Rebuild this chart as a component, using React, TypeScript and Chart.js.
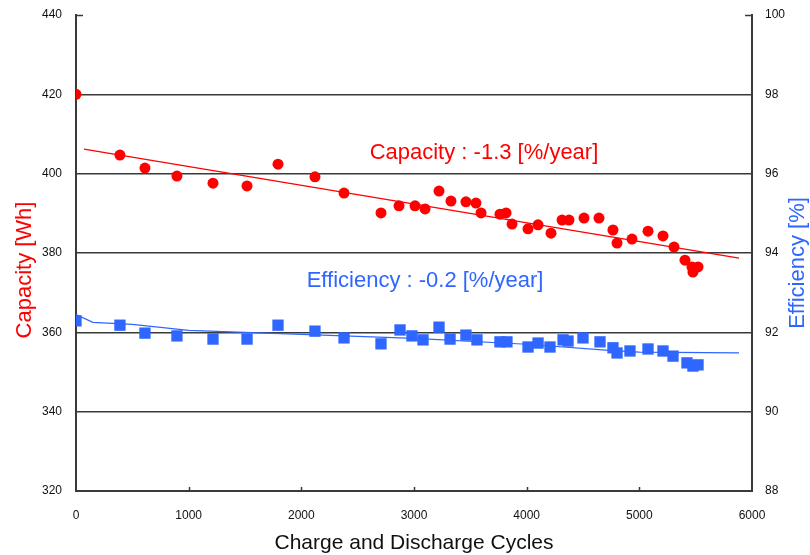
import React, { useEffect, useRef } from "react";
import { Chart, registerables } from "chart.js";

Chart.register(...registerables);

// ---- data ----
const capCycles = [0, 390, 612, 896, 1216, 1518, 1793, 2121, 2379, 2707, 2867, 3009, 3098, 3222, 3328, 3461, 3550, 3595, 3763, 3817, 3870, 4012, 4101, 4216, 4314, 4376, 4509, 4642, 4766, 4802, 4935, 5077, 5210, 5308, 5405, 5467, 5521, 5476];
const capacity = [420, 404.7, 401.4, 399.4, 397.6, 396.9, 402.4, 399.2, 395.1, 390.1, 391.9, 391.9, 391.1, 395.6, 393.1, 392.9, 392.6, 390.1, 389.8, 390.1, 387.3, 386.1, 387.1, 385.0, 388.3, 388.3, 388.8, 388.8, 385.8, 382.5, 383.5, 385.5, 384.3, 381.5, 378.2, 376.5, 376.5, 375.2];

const effCycles = [0, 390, 612, 896, 1216, 1518, 1793, 2121, 2379, 2707, 2876, 2982, 3080, 3222, 3320, 3461, 3559, 3763, 3825, 4012, 4101, 4207, 4323, 4367, 4500, 4651, 4766, 4802, 4917, 5077, 5210, 5299, 5423, 5476, 5521];
const efficiency = [92.29, 92.18, 91.98, 91.91, 91.83, 91.83, 92.18, 92.03, 91.86, 91.71, 92.06, 91.91, 91.81, 92.13, 91.83, 91.93, 91.81, 91.76, 91.76, 91.63, 91.73, 91.63, 91.81, 91.78, 91.86, 91.76, 91.61, 91.48, 91.53, 91.58, 91.53, 91.40, 91.23, 91.15, 91.18];

const capTrendX = [71, 5885];
const capTrendY = [406.2, 378.7];
const effTrendX = [0, 150, 500, 1000, 2000, 3000, 4000, 4700, 5000, 5885];
const effTrendY = [92.45, 92.25, 92.2, 92.05, 91.95, 91.85, 91.7, 91.55, 91.5, 91.48];

const xTickValues = [0, 1000, 2000, 3000, 4000, 5000, 6000];
const capTicks = [320, 340, 360, 380, 400, 420, 440];
const effTicks = [88, 90, 92, 94, 96, 98, 100];

const capLabel = "Capacity : -1.3 [%/year]";
const effLabel = "Efficiency : -0.2 [%/year]";
const capLabelPos = [3621, 405.2];
const effLabelPos = [3098, 93.29];

const RED = "#ff0000";
const BLUE = "#2f66ff";
const LINE = "#3a3a3a";
const TITLE_FONT = '22px "Liberation Sans", Arial, sans-serif';
const TICK_FONT = { family: '"Liberation Sans Narrow", "Liberation Sans", sans-serif', size: 12 };

const pts = (xs: number[], ys: number[]) => xs.map((x, i) => ({ x, y: ys[i] }));

const overlay = {
  id: "overlay",
  afterDraw(chart: any) {
    const { ctx, chartArea, scales } = chart;
    const { left, right, top, bottom } = chartArea;
    ctx.save();
    ctx.strokeStyle = LINE;
    ctx.lineWidth = 1.5;
    ctx.beginPath();
    for (const v of xTickValues.slice(1, -1)) {
      const px = Math.round(scales.x.getPixelForValue(v)) + 0.5;
      ctx.moveTo(px, bottom);
      ctx.lineTo(px, bottom - 4);
    }
    ctx.moveTo(left, top + 0.5);
    ctx.lineTo(left + 7, top + 0.5);
    ctx.moveTo(right - 7, top + 0.5);
    ctx.lineTo(right, top + 0.5);
    ctx.stroke();

    ctx.font = TITLE_FONT;
    ctx.textAlign = "center";
    ctx.textBaseline = "middle";

    ctx.fillStyle = RED;
    ctx.fillText(capLabel, scales.x.getPixelForValue(capLabelPos[0]), scales.y.getPixelForValue(capLabelPos[1]));
    ctx.fillStyle = BLUE;
    ctx.fillText(effLabel, scales.x.getPixelForValue(effLabelPos[0]), scales.y1.getPixelForValue(effLabelPos[1]));

    ctx.fillStyle = "#111";
    ctx.font = '21px "Liberation Sans", Arial, sans-serif';
    ctx.fillText("Charge and Discharge Cycles", 414, 543);

    ctx.font = TITLE_FONT;
    ctx.save();
    ctx.translate(25, 270);
    ctx.rotate(-Math.PI / 2);
    ctx.fillStyle = RED;
    ctx.fillText("Capacity [Wh]", 0, 0);
    ctx.restore();

    ctx.save();
    ctx.translate(798, 263);
    ctx.rotate(-Math.PI / 2);
    ctx.fillStyle = BLUE;
    ctx.fillText("Efficiency [%]", 0, 0);
    ctx.restore();

    ctx.restore();
  },
};

const fitV = (w: number) => (s: any) => {
  s.width = w;
  s.paddingTop = 0;
  s.paddingBottom = 0;
};

export default function App() {
  const ref = useRef<HTMLCanvasElement>(null);
  useEffect(() => {
    if (!ref.current) return;
    const chart = new Chart(ref.current, {
      type: "scatter",
      data: {
        datasets: [
          {
            type: "line",
            data: pts(capTrendX, capTrendY),
            borderColor: RED,
            borderWidth: 1.2,
            pointRadius: 0,
            yAxisID: "y",
          },
          {
            type: "line",
            data: pts(effTrendX, effTrendY),
            borderColor: BLUE,
            borderWidth: 1.2,
            pointRadius: 0,
            yAxisID: "y1",
          },
          {
            data: pts(capCycles, capacity),
            backgroundColor: RED,
            borderColor: RED,
            pointStyle: "circle",
            pointRadius: 5.5,
            borderWidth: 0,
            yAxisID: "y",
          },
          {
            data: pts(effCycles, efficiency),
            backgroundColor: BLUE,
            borderColor: BLUE,
            pointStyle: "rect",
            pointRadius: 8,
            borderWidth: 0,
            yAxisID: "y1",
          },
        ],
      } as any,
      options: {
        responsive: false,
        animation: false,
        layout: { padding: { top: 15, left: 0, right: 0, bottom: 0 } },
        plugins: { legend: { display: false }, tooltip: { enabled: false } },
        scales: {
          x: {
            type: "linear",
            min: 0,
            max: 6000,
            afterBuildTicks: (s: any) => { s.ticks = xTickValues.map((v) => ({ value: v })); },
            afterFit: (s: any) => { s.height = 64; s.paddingLeft = 0; s.paddingRight = 0; },
            ticks: { color: "#111", font: TICK_FONT, padding: 17, maxRotation: 0, callback: (v: any) => String(v) },
            grid: { display: false, drawTicks: false },
            border: { display: true, color: LINE, width: 2 },
          },
          y: {
            position: "left",
            min: 320,
            max: 440,
            afterBuildTicks: (s: any) => { s.ticks = capTicks.map((v) => ({ value: v })); },
            afterFit: fitV(76),
            ticks: { color: "#111", font: TICK_FONT, padding: 14, callback: (v: any) => String(v) },
            grid: {
              drawTicks: false,
              color: (c: any) => (c.tick && (c.tick.value === 440 || c.tick.value === 320) ? "rgba(0,0,0,0)" : LINE),
              lineWidth: 1.6,
            },
            border: { display: true, color: LINE, width: 2 },
          },
          y1: {
            position: "right",
            min: 88,
            max: 100,
            afterBuildTicks: (s: any) => { s.ticks = effTicks.map((v) => ({ value: v })); },
            afterFit: fitV(58),
            ticks: { color: "#111", font: TICK_FONT, padding: 13, callback: (v: any) => String(v) },
            grid: { drawOnChartArea: false, drawTicks: false },
            border: { display: true, color: LINE, width: 2 },
          },
        },
      } as any,
      plugins: [overlay],
    });
    return () => chart.destroy();
  }, []);
  return (
    <div style={{ position: "absolute", left: 0, top: 0, width: 810, height: 555, background: "#fff" }}>
      <canvas ref={ref} width={810} height={555} style={{ width: 810, height: 555, display: "block" }} />
    </div>
  );
}
